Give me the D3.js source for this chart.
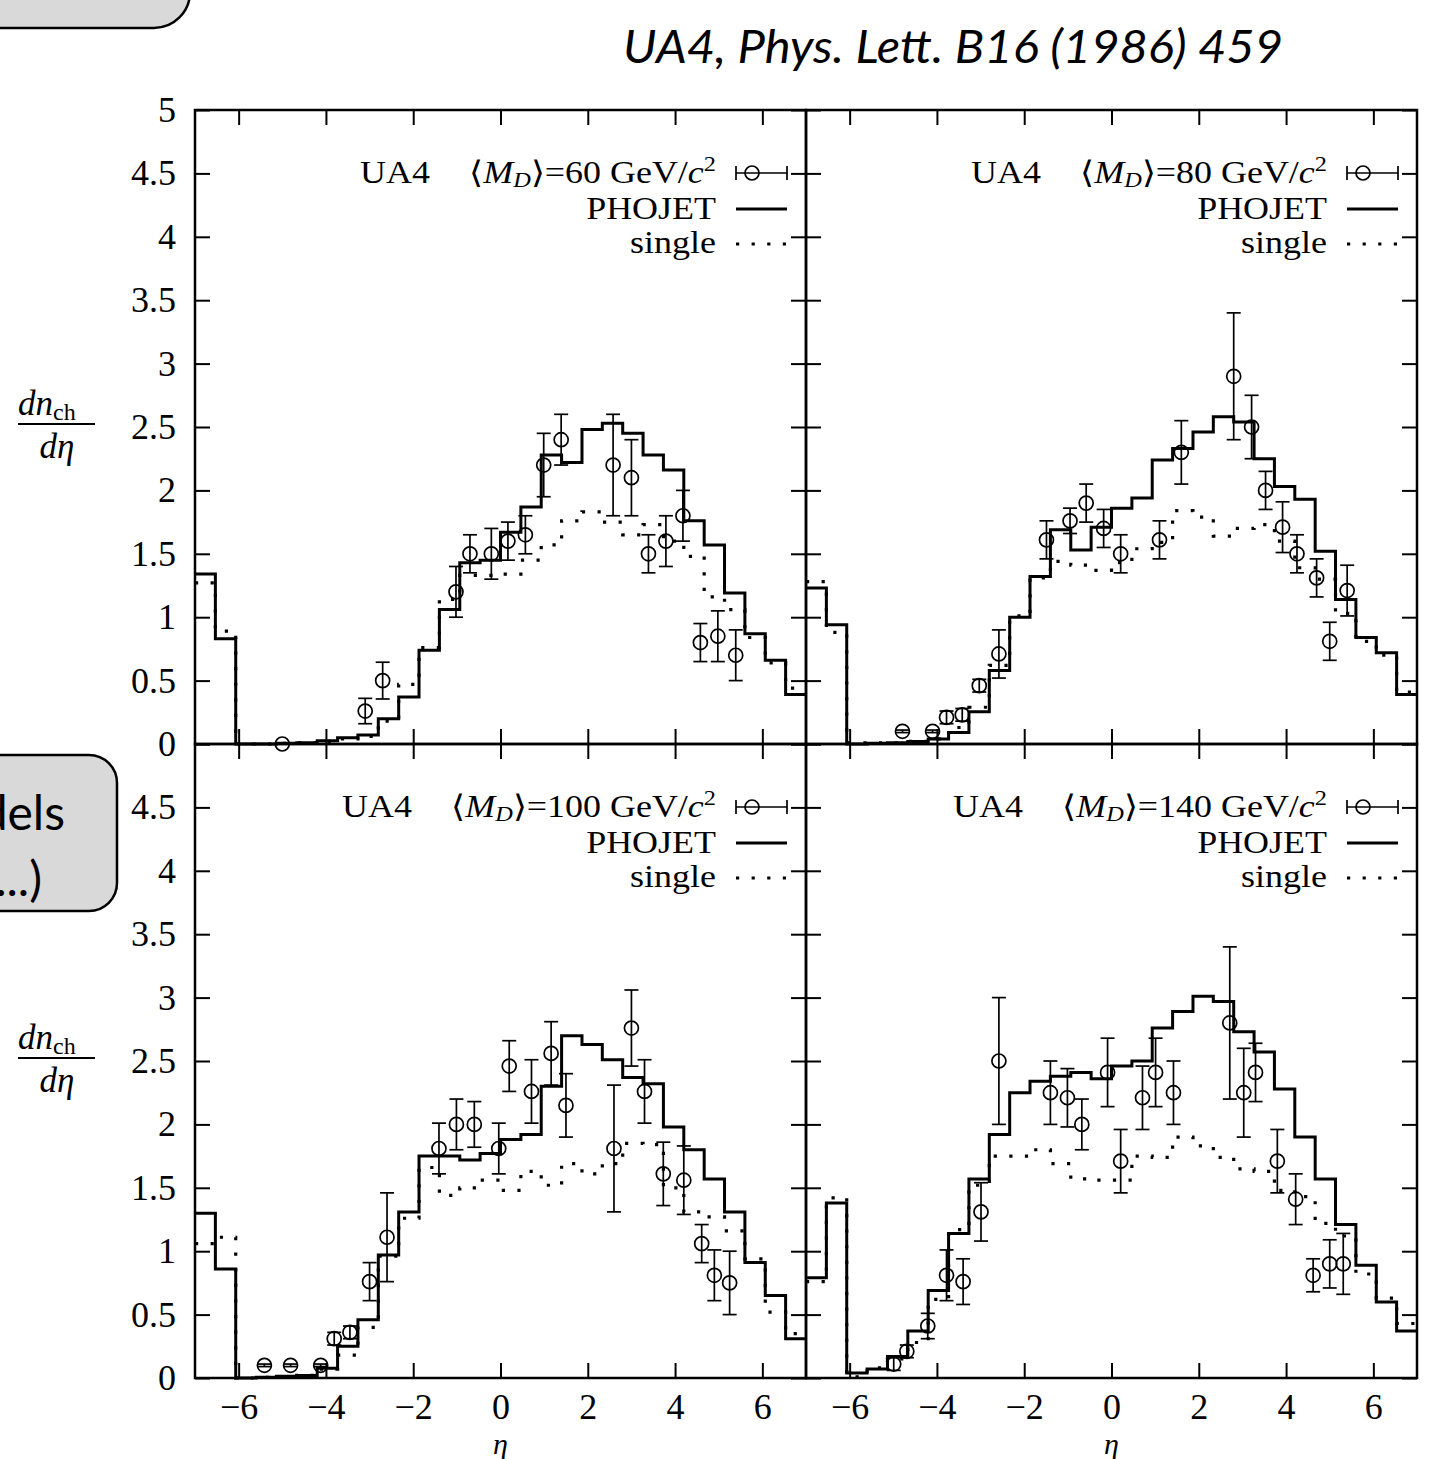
<!DOCTYPE html>
<html><head><meta charset="utf-8">
<script src="https://cdn.jsdelivr.net/npm/d3@7"></script>
<style>
html,body{margin:0;padding:0;background:#fff;}
svg{display:block;}
.serif{font-family:"Liberation Serif","Times New Roman",serif;fill:#000;}
</style></head>
<body>
<svg id="c" width="1440" height="1459"></svg>
<script>
// ---------------- data ----------------
const titleText = "UA4, Phys. Lett. B16 (1986) 459";
const boxLine1 = "Models";
const boxLine2 = "(...)";
const experiment = "UA4";
const legendLabels = ["PHOJET", "single"];
const masses = [60, 80, 100, 140];

const binEdges = [-7, -6.533, -6.067, -5.6, -5.133, -4.667, -4.2, -3.733, -3.267, -2.8, -2.333, -1.867, -1.4, -0.933, -0.467, 0,
  0.467, 0.933, 1.4, 1.867, 2.333, 2.8, 3.267, 3.733, 4.2, 4.667, 5.133, 5.6, 6.067, 6.533, 7];

const xTickValues = [-6, -4, -2, 0, 2, 4, 6];
const yTickValues = [0, 0.5, 1, 1.5, 2, 2.5, 3, 3.5, 4, 4.5, 5];
const yLabelValuesTop = [0, 0.5, 1, 1.5, 2, 2.5, 3, 3.5, 4, 4.5, 5];
const yLabelValuesBottom = [0, 0.5, 1, 1.5, 2, 2.5, 3, 3.5, 4, 4.5];

// <M_D> = 60
const phojet60 = [1.34, 0.83, 0, 0, 0.005, 0.01, 0.026, 0.05, 0.07, 0.2, 0.37, 0.74, 1.06, 1.43, 1.45, 1.67, 1.87, 2.28, 2.22, 2.48, 2.53, 2.45, 2.28, 2.16, 1.76, 1.57, 1.19, 0.87, 0.66, 0.39];
const single60 = [1.27, 0.89, 0, 0, 0.005, 0.01, 0.02, 0.04, 0.06, 0.18, 0.47, 0.76, 1.14, 1.33, 1.33, 1.34, 1.45, 1.57, 1.76, 1.83, 1.75, 1.65, 1.73, 1.6, 1.48, 1.16, 1.06, 0.84, 0.64, 0.44];
const eta60 = [-5.0, -3.1, -2.7, -1.02, -0.7, -0.21, 0.17, 0.57, 0.99, 1.39, 2.58, 3.0, 3.39, 3.79, 4.18, 4.58, 4.98, 5.39];
const val60 = [0.0, 0.26, 0.5, 1.2, 1.5, 1.5, 1.6, 1.65, 2.2, 2.4, 2.2, 2.1, 1.5, 1.6, 1.8, 0.8, 0.85, 0.7];
const err60 = [0.0, 0.1, 0.145, 0.2, 0.15, 0.2, 0.15, 0.15, 0.25, 0.2, 0.4, 0.3, 0.15, 0.2, 0.2, 0.15, 0.2, 0.2];

// <M_D> = 80
const phojet80 = [1.23, 0.94, 0, 0.005, 0.01, 0.02, 0.04, 0.09, 0.255, 0.58, 1.0, 1.32, 1.69, 1.53, 1.71, 1.86, 1.94, 2.24, 2.33, 2.46, 2.58, 2.54, 2.25, 2.03, 1.93, 1.52, 1.14, 0.84, 0.72, 0.39];
const single80 = [1.28, 0.88, 0.01, 0.01, 0.01, 0.02, 0.04, 0.13, 0.29, 0.62, 1.01, 1.31, 1.44, 1.41, 1.37, 1.43, 1.54, 1.59, 1.84, 1.79, 1.64, 1.70, 1.73, 1.6, 1.39, 1.30, 1.03, 0.81, 0.70, 0.41];
const eta80 = [-4.79, -4.10, -3.78, -3.42, -3.03, -2.58, -1.49, -0.95, -0.58, -0.18, 0.21, 1.1, 1.6, 2.8, 3.21, 3.53, 3.92, 4.25, 4.7, 5.0, 5.4];
const val80 = [0.10, 0.10, 0.21, 0.23, 0.46, 0.71, 1.61, 1.76, 1.9, 1.70, 1.5, 1.61, 2.3, 2.90, 2.50, 2.0, 1.71, 1.5, 1.31, 0.81, 1.21];
const err80 = [0.01, 0.01, 0.05, 0.05, 0.05, 0.19, 0.15, 0.1, 0.15, 0.15, 0.15, 0.15, 0.25, 0.5, 0.25, 0.15, 0.2, 0.15, 0.15, 0.15, 0.2];

// <M_D> = 100
const phojet100 = [1.30, 0.86, 0.0, 0.005, 0.013, 0.02, 0.076, 0.25, 0.46, 0.97, 1.31, 1.75, 1.75, 1.72, 1.77, 1.88, 1.92, 2.30, 2.70, 2.63, 2.51, 2.37, 2.32, 1.98, 1.80, 1.57, 1.31, 0.91, 0.65, 0.31];
const single100 = [1.06, 1.11, 0.0, 0.005, 0.01, 0.02, 0.07, 0.18, 0.4, 0.96, 1.26, 1.66, 1.44, 1.5, 1.56, 1.48, 1.63, 1.52, 1.69, 1.61, 1.69, 1.85, 1.84, 1.5, 1.31, 1.27, 1.16, 0.94, 0.52, 0.35];
const eta100 = [-5.41, -4.81, -4.12, -3.81, -3.45, -3.0, -2.6, -1.41, -1.01, -0.6, -0.04, 0.2, 0.71, 1.16, 1.5, 2.6, 3.0, 3.3, 3.73, 4.2, 4.61, 4.9, 5.25];
const val100 = [0.10, 0.10, 0.10, 0.31, 0.36, 0.76, 1.11, 1.81, 2.0, 2.0, 1.81, 2.46, 2.26, 2.56, 2.15, 1.81, 2.76, 2.26, 1.61, 1.56, 1.06, 0.81, 0.75];
const err100 = [0.01, 0.01, 0.01, 0.05, 0.05, 0.15, 0.35, 0.2, 0.2, 0.18, 0.2, 0.2, 0.25, 0.25, 0.25, 0.5, 0.3, 0.25, 0.25, 0.27, 0.15, 0.2, 0.25];

// <M_D> = 140
const phojet140 = [0.79, 1.38, 0.04, 0.07, 0.17, 0.37, 0.69, 1.14, 1.57, 1.92, 2.25, 2.34, 2.38, 2.41, 2.36, 2.46, 2.50, 2.76, 2.89, 3.01, 2.97, 2.73, 2.57, 2.28, 1.90, 1.57, 1.21, 0.89, 0.60, 0.37];
const single140 = [0.76, 1.42, 0.01, 0.08, 0.15, 0.28, 0.62, 1.17, 1.52, 1.75, 1.75, 1.80, 1.69, 1.57, 1.56, 1.56, 1.75, 1.74, 1.90, 1.83, 1.74, 1.65, 1.63, 1.48, 1.43, 1.22, 1.12, 0.82, 0.63, 0.43];
const eta140 = [-4.99, -4.69, -4.21, -3.78, -3.4, -2.99, -2.58, -1.4, -1.01, -0.68, -0.09, 0.21, 0.71, 1.01, 1.42, 2.71, 3.03, 3.3, 3.8, 4.22, 4.62, 5.0, 5.31];
const val140 = [0.11, 0.21, 0.41, 0.81, 0.76, 1.31, 2.50, 2.25, 2.21, 2.0, 2.41, 1.71, 2.21, 2.41, 2.25, 2.80, 2.25, 2.41, 1.71, 1.41, 0.81, 0.90, 0.90];
const err140 = [0.05, 0.05, 0.1, 0.2, 0.18, 0.23, 0.5, 0.25, 0.23, 0.2, 0.27, 0.25, 0.25, 0.27, 0.25, 0.6, 0.35, 0.23, 0.25, 0.2, 0.13, 0.19, 0.24];

// ---------------- layout ----------------
const LEFT = 195, MID_X = 806, RIGHT = 1417, TOP = 110, MID_Y = 744, BOTTOM = 1378;
const panels = [
  {x0: LEFT, x1: MID_X, y0: TOP, y1: MID_Y, mass: masses[0], ph: phojet60, si: single60, eta: eta60, val: val60, err: err60, left: true, bottom: false},
  {x0: MID_X, x1: RIGHT, y0: TOP, y1: MID_Y, mass: masses[1], ph: phojet80, si: single80, eta: eta80, val: val80, err: err80, left: false, bottom: false},
  {x0: LEFT, x1: MID_X, y0: MID_Y, y1: BOTTOM, mass: masses[2], ph: phojet100, si: single100, eta: eta100, val: val100, err: err100, left: true, bottom: true},
  {x0: MID_X, x1: RIGHT, y0: MID_Y, y1: BOTTOM, mass: masses[3], ph: phojet140, si: single140, eta: eta140, val: val140, err: err140, left: false, bottom: true}
];

const svg = d3.select("#c");
svg.append("rect").attr("width", 1440).attr("height", 1459).attr("fill", "#fff");

// decorative slide boxes (cut by the page edge, as in the reference)
svg.append("rect").attr("x", -60).attr("y", -200).attr("width", 250).attr("height", 228)
  .attr("rx", 36).attr("fill", "#d9d9d9").attr("stroke", "#000").attr("stroke-width", 2.5);
svg.append("rect").attr("x", -60).attr("y", 755).attr("width", 177).attr("height", 156)
  .attr("rx", 28).attr("fill", "#d9d9d9").attr("stroke", "#000").attr("stroke-width", 2.5);
svg.append("text").attr("x", 65).attr("y", 830).attr("text-anchor", "end")
  .style("font-family", "Lato, 'Open Sans', sans-serif").style("font-size", "48px").text(boxLine1);
svg.append("text").attr("x", 42).attr("y", 896).attr("text-anchor", "end")
  .style("font-family", "Lato, 'Open Sans', sans-serif").style("font-size", "48px").text(boxLine2);

// title
svg.append("text").attr("x", 623).attr("y", 63)
  .style("font-family", "Lato, 'Open Sans', sans-serif").style("font-style", "italic").style("font-size", "46px")
  .attr("textLength", 660).attr("lengthAdjust", "spacingAndGlyphs").text(titleText);

const fmt = d3.format("");

panels.forEach(p => {
  const x = d3.scaleLinear().domain([-7, 7]).range([p.x0, p.x1]);
  const y = d3.scaleLinear().domain([0, 5]).range([p.y1, p.y0]);
  const g = svg.append("g");

  // inside ticks
  const tickStyle = sel => {
    sel.select(".domain").remove();
    sel.selectAll(".tick line").attr("stroke", "#000").attr("stroke-width", 2);
    sel.selectAll(".tick text").remove();
  };
  g.append("g").attr("transform", `translate(${p.x0},0)`)
    .call(d3.axisRight(y).tickValues(yTickValues).tickSize(15).tickSizeOuter(0)).call(tickStyle);
  g.append("g").attr("transform", `translate(${p.x1},0)`)
    .call(d3.axisLeft(y).tickValues(yTickValues).tickSize(15).tickSizeOuter(0)).call(tickStyle);
  g.append("g").attr("transform", `translate(0,${p.y0})`)
    .call(d3.axisBottom(x).tickValues(xTickValues).tickSize(15).tickSizeOuter(0)).call(tickStyle);
  g.append("g").attr("transform", `translate(0,${p.y1})`)
    .call(d3.axisTop(x).tickValues(xTickValues).tickSize(15).tickSizeOuter(0)).call(tickStyle);

  // labels
  const labStyle = sel => {
    sel.select(".domain").remove();
    sel.selectAll(".tick line").remove();
    sel.selectAll(".tick text").attr("class", "serif").attr("fill", "#000")
      .style("font-family", "'Liberation Serif', serif").style("font-size", "36px");
  };
  if (p.left) {
    g.append("g").attr("transform", `translate(${p.x0},0)`)
      .call(d3.axisLeft(y).tickValues(p.bottom ? yLabelValuesBottom : yLabelValuesTop).tickFormat(fmt).tickSize(0).tickPadding(19))
      .call(labStyle);
  }
  if (p.bottom) {
    g.append("g").attr("transform", `translate(0,${p.y1})`)
      .call(d3.axisBottom(x).tickValues(xTickValues).tickFormat(fmt).tickSize(0).tickPadding(15))
      .call(labStyle);
    g.append("text").attr("class", "serif").attr("x", x(0)).attr("y", 1454).attr("text-anchor", "middle")
      .style("font-size", "30px").style("font-style", "italic").text("η");
  }

  // histograms
  const line = d3.line().x(d => x(d[0])).y(d => y(d[1])).curve(d3.curveStepAfter);
  const pts = arr => arr.map((v, i) => [binEdges[i], v]).concat([[binEdges[binEdges.length - 1], arr[arr.length - 1]]]);
  g.append("path").attr("d", line(pts(p.si))).attr("fill", "none").attr("stroke", "#000")
    .attr("stroke-width", 3.2).attr("stroke-dasharray", "3.2 12.4");
  g.append("path").attr("d", line(pts(p.ph))).attr("fill", "none").attr("stroke", "#000")
    .attr("stroke-width", 3).attr("stroke-linejoin", "miter");

  // data points
  const dg = g.append("g").attr("stroke", "#000").attr("fill", "none").attr("stroke-width", 1.7);
  p.eta.forEach((e, i) => {
    const cx = x(e), cy = y(p.val[i]);
    const yt = y(p.val[i] + p.err[i]), yb = y(p.val[i] - p.err[i]);
    if (p.err[i] > 0) {
      dg.append("line").attr("x1", cx).attr("x2", cx).attr("y1", yt).attr("y2", yb);
      dg.append("line").attr("x1", cx - 7).attr("x2", cx + 7).attr("y1", yt).attr("y2", yt);
      dg.append("line").attr("x1", cx - 7).attr("x2", cx + 7).attr("y1", yb).attr("y2", yb);
    }
    dg.append("circle").attr("cx", cx).attr("cy", cy).attr("r", 7);
  });

  // frame
  g.append("rect").attr("x", p.x0).attr("y", p.y0).attr("width", p.x1 - p.x0).attr("height", p.y1 - p.y0)
    .attr("fill", "none").attr("stroke", "#000").attr("stroke-width", 2.5);

  // legend
  const rows = [p.y0 + 63, p.y0 + 99, p.y0 + 134];
  const tx = p.x1 - 90;
  const lg = g.append("g").attr("class", "serif").style("font-size", "31px")
    .attr("transform", `translate(${tx},0) scale(1.16,1) translate(${-tx},0)`);
  const t = lg.append("text").attr("x", tx).attr("y", rows[0] + 10).attr("text-anchor", "end");
  t.append("tspan").text("⟨");
  t.append("tspan").style("font-style", "italic").text("M");
  t.append("tspan").style("font-style", "italic").style("font-size", "21px").attr("dy", 4).text("D");
  t.append("tspan").attr("dy", -4).text(`⟩=${p.mass} GeV/`);
  t.append("tspan").style("font-style", "italic").text("c");
  t.append("tspan").style("font-size", "21px").attr("dy", -12).text("2");
  const bb = t.node().getBBox();
  lg.append("text").attr("x", bb.x - 34).attr("y", rows[0] + 10).attr("text-anchor", "end").text(experiment);
  lg.append("text").attr("x", tx).attr("y", rows[1] + 10).attr("text-anchor", "end").text(legendLabels[0]);
  lg.append("text").attr("x", tx).attr("y", rows[2] + 9).attr("text-anchor", "end").text(legendLabels[1]);

  const sx0 = p.x1 - 70, sx1 = p.x1 - 19;
  const kg = g.append("g").attr("stroke", "#000").attr("fill", "none");
  kg.append("line").attr("x1", sx0).attr("x2", sx1).attr("y1", rows[0]).attr("y2", rows[0]).attr("stroke-width", 1.7);
  kg.append("line").attr("x1", sx0).attr("x2", sx0).attr("y1", rows[0] - 7).attr("y2", rows[0] + 7).attr("stroke-width", 1.7);
  kg.append("line").attr("x1", sx1).attr("x2", sx1).attr("y1", rows[0] - 7).attr("y2", rows[0] + 7).attr("stroke-width", 1.7);
  kg.append("circle").attr("cx", sx0 + 16).attr("cy", rows[0]).attr("r", 7).attr("stroke-width", 1.7);
  kg.append("line").attr("x1", sx0).attr("x2", sx1).attr("y1", rows[1]).attr("y2", rows[1]).attr("stroke-width", 3);
  kg.append("line").attr("x1", sx0).attr("x2", sx1 + 3).attr("y1", rows[2]).attr("y2", rows[2])
    .attr("stroke-width", 3.2).attr("stroke-dasharray", "3.2 12.4");
});

// y axis label (fraction)
[TOP + 314, MID_Y + 314].forEach(yc => {
  const g = svg.append("g").attr("class", "serif").style("font-size", "35px");
  const num = g.append("text").attr("x", 18).attr("y", yc - 9);
  num.append("tspan").style("font-style", "italic").text("dn");
  num.append("tspan").style("font-size", "24px").attr("dy", 5).text("ch");
  g.append("line").attr("x1", 18).attr("x2", 95).attr("y1", yc).attr("y2", yc).attr("stroke", "#000").attr("stroke-width", 2);
  g.append("text").attr("x", 57).attr("y", yc + 34).attr("text-anchor", "middle").style("font-style", "italic").text("dη");
});
</script>
</body></html>
